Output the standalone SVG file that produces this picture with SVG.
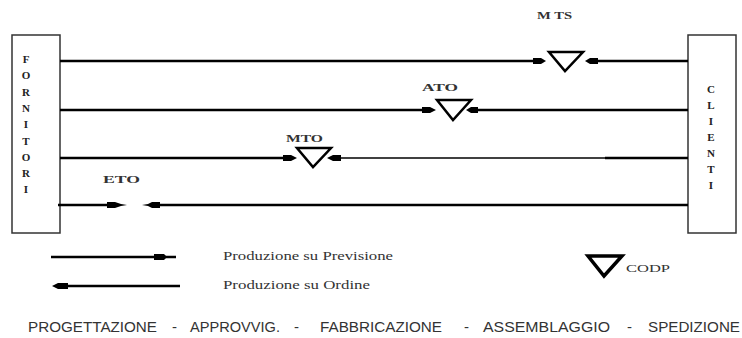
<svg xmlns="http://www.w3.org/2000/svg" width="742" height="338" viewBox="0 0 742 338">
<style>
.box{fill:#fff;stroke:#333;stroke-width:1.5}
.ln{stroke:#000;stroke-width:2.5;fill:none}
.thin{stroke:#000;stroke-width:1.5;fill:none}
.ah{fill:#000}
.tri{fill:#fff;stroke:#000;stroke-width:2.5;stroke-linejoin:miter}
.vl{font-family:"Liberation Serif",serif;font-weight:bold;font-size:11px;fill:#222;text-anchor:middle}
.lb{font-family:"Liberation Serif",serif;font-weight:bold;font-size:11px;fill:#333}
.lg{font-family:"Liberation Serif",serif;font-size:12px;fill:#333}
.bt{font-family:"Liberation Sans",sans-serif;font-size:15px;fill:#333}
</style>
<rect width="742" height="338" fill="#fff"/>
<g id="fornitori">
<rect class="box" x="12" y="35" width="48" height="198"/>
<text class="vl" x="26" y="63">F</text>
<text class="vl" x="26" y="79">O</text>
<text class="vl" x="26" y="95.5">R</text>
<text class="vl" x="26" y="112">N</text>
<text class="vl" x="26" y="128">I</text>
<text class="vl" x="26" y="144.5">T</text>
<text class="vl" x="26" y="161">O</text>
<text class="vl" x="26" y="177">R</text>
<text class="vl" x="26" y="193">I</text>
</g>
<g id="clienti">
<rect class="box" x="688" y="35" width="48" height="198"/>
<text class="vl" x="711" y="93">C</text>
<text class="vl" x="711" y="109">L</text>
<text class="vl" x="711" y="125">I</text>
<text class="vl" x="711" y="141">E</text>
<text class="vl" x="711" y="157">N</text>
<text class="vl" x="711" y="173">T</text>
<text class="vl" x="711" y="189">I</text>
</g>
<g id="connectors">
<line class="ln" x1="60" y1="61" x2="534" y2="61"/>
<polygon class="ah" points="533,58 541,58 546,61 541,64 533,64"/>
<polygon class="ah" points="598,58 590,58 585,61 590,64 598,64"/>
<line class="ln" x1="597" y1="61" x2="688" y2="61"/>
<line class="ln" x1="60" y1="110" x2="423" y2="110"/>
<polygon class="ah" points="422,107 430,107 436,110 430,113 422,113"/>
<polygon class="ah" points="478,107 471,107 466,110 471,113 478,113"/>
<line class="ln" x1="477" y1="110" x2="688" y2="110"/>
<line class="ln" x1="60" y1="158" x2="284" y2="158"/>
<polygon class="ah" points="283,155 291,155 297,158 291,161 283,161"/>
<polygon class="ah" points="341,155 333,155 327,158 333,161 341,161"/>
<line class="thin" x1="340" y1="158" x2="606" y2="158"/>
<line class="ln" x1="605" y1="158" x2="688" y2="158"/>
<line class="ln" x1="58" y1="205" x2="108" y2="205"/>
<polygon class="ah" points="107,202 115,202 121,204 127,205 121,206 115,208 107,208"/>
<polygon class="ah" points="160,202 152,202 148,204 142,205 148,206 152,208 160,208"/>
<line class="ln" x1="159" y1="205" x2="688" y2="205"/>
</g>
<g id="mts">
<polygon class="tri" points="549,52 583,52 565,71"/>
<text class="lb" x="537" y="19" textLength="35" lengthAdjust="spacingAndGlyphs">M TS</text>
</g>
<g id="ato">
<polygon class="tri" points="437,100 471,100 453,120"/>
<text class="lb" x="422" y="91" textLength="36" lengthAdjust="spacingAndGlyphs">ATO</text>
</g>
<g id="mto">
<polygon class="tri" points="297,148 331,148 313,167"/>
<text class="lb" x="286" y="142" textLength="37" lengthAdjust="spacingAndGlyphs">MTO</text>
</g>
<g id="eto">
<text class="lb" x="103" y="183" textLength="37" lengthAdjust="spacingAndGlyphs">ETO</text>
</g>
<g id="legend">
<line class="ln" x1="51" y1="257" x2="176" y2="257"/>
<polygon class="ah" points="154,254 164,254 167,257 164,260 154,260"/>
<text class="lg" x="223" y="260" textLength="170" lengthAdjust="spacingAndGlyphs">Produzione su Previsione</text>
<line class="ln" x1="56" y1="286" x2="180" y2="286"/>
<polygon class="ah" points="68,283 58,283 52,286 58,289 68,289"/>
<text class="lg" x="223" y="289" textLength="147" lengthAdjust="spacingAndGlyphs">Produzione su Ordine</text>
<polygon points="588,256 622,256 604,276" fill="#fff" stroke="#000" stroke-width="3.5"/>
<text class="lb" x="626" y="272" textLength="44" lengthAdjust="spacingAndGlyphs" style="font-weight:normal">CODP</text>
</g>
<g id="phases">
<text class="bt" x="28" y="332" textLength="129" lengthAdjust="spacingAndGlyphs">PROGETTAZIONE</text>
<text class="bt" x="172" y="332">-</text>
<text class="bt" x="190" y="332" textLength="90" lengthAdjust="spacingAndGlyphs">APPROVVIG.</text>
<text class="bt" x="294" y="332">-</text>
<text class="bt" x="320" y="332" textLength="122" lengthAdjust="spacingAndGlyphs">FABBRICAZIONE</text>
<text class="bt" x="464" y="332">-</text>
<text class="bt" x="483" y="332" textLength="127" lengthAdjust="spacingAndGlyphs">ASSEMBLAGGIO</text>
<text class="bt" x="627" y="332">-</text>
<text class="bt" x="648" y="332" textLength="92" lengthAdjust="spacingAndGlyphs">SPEDIZIONE</text>
</g>
</svg>
